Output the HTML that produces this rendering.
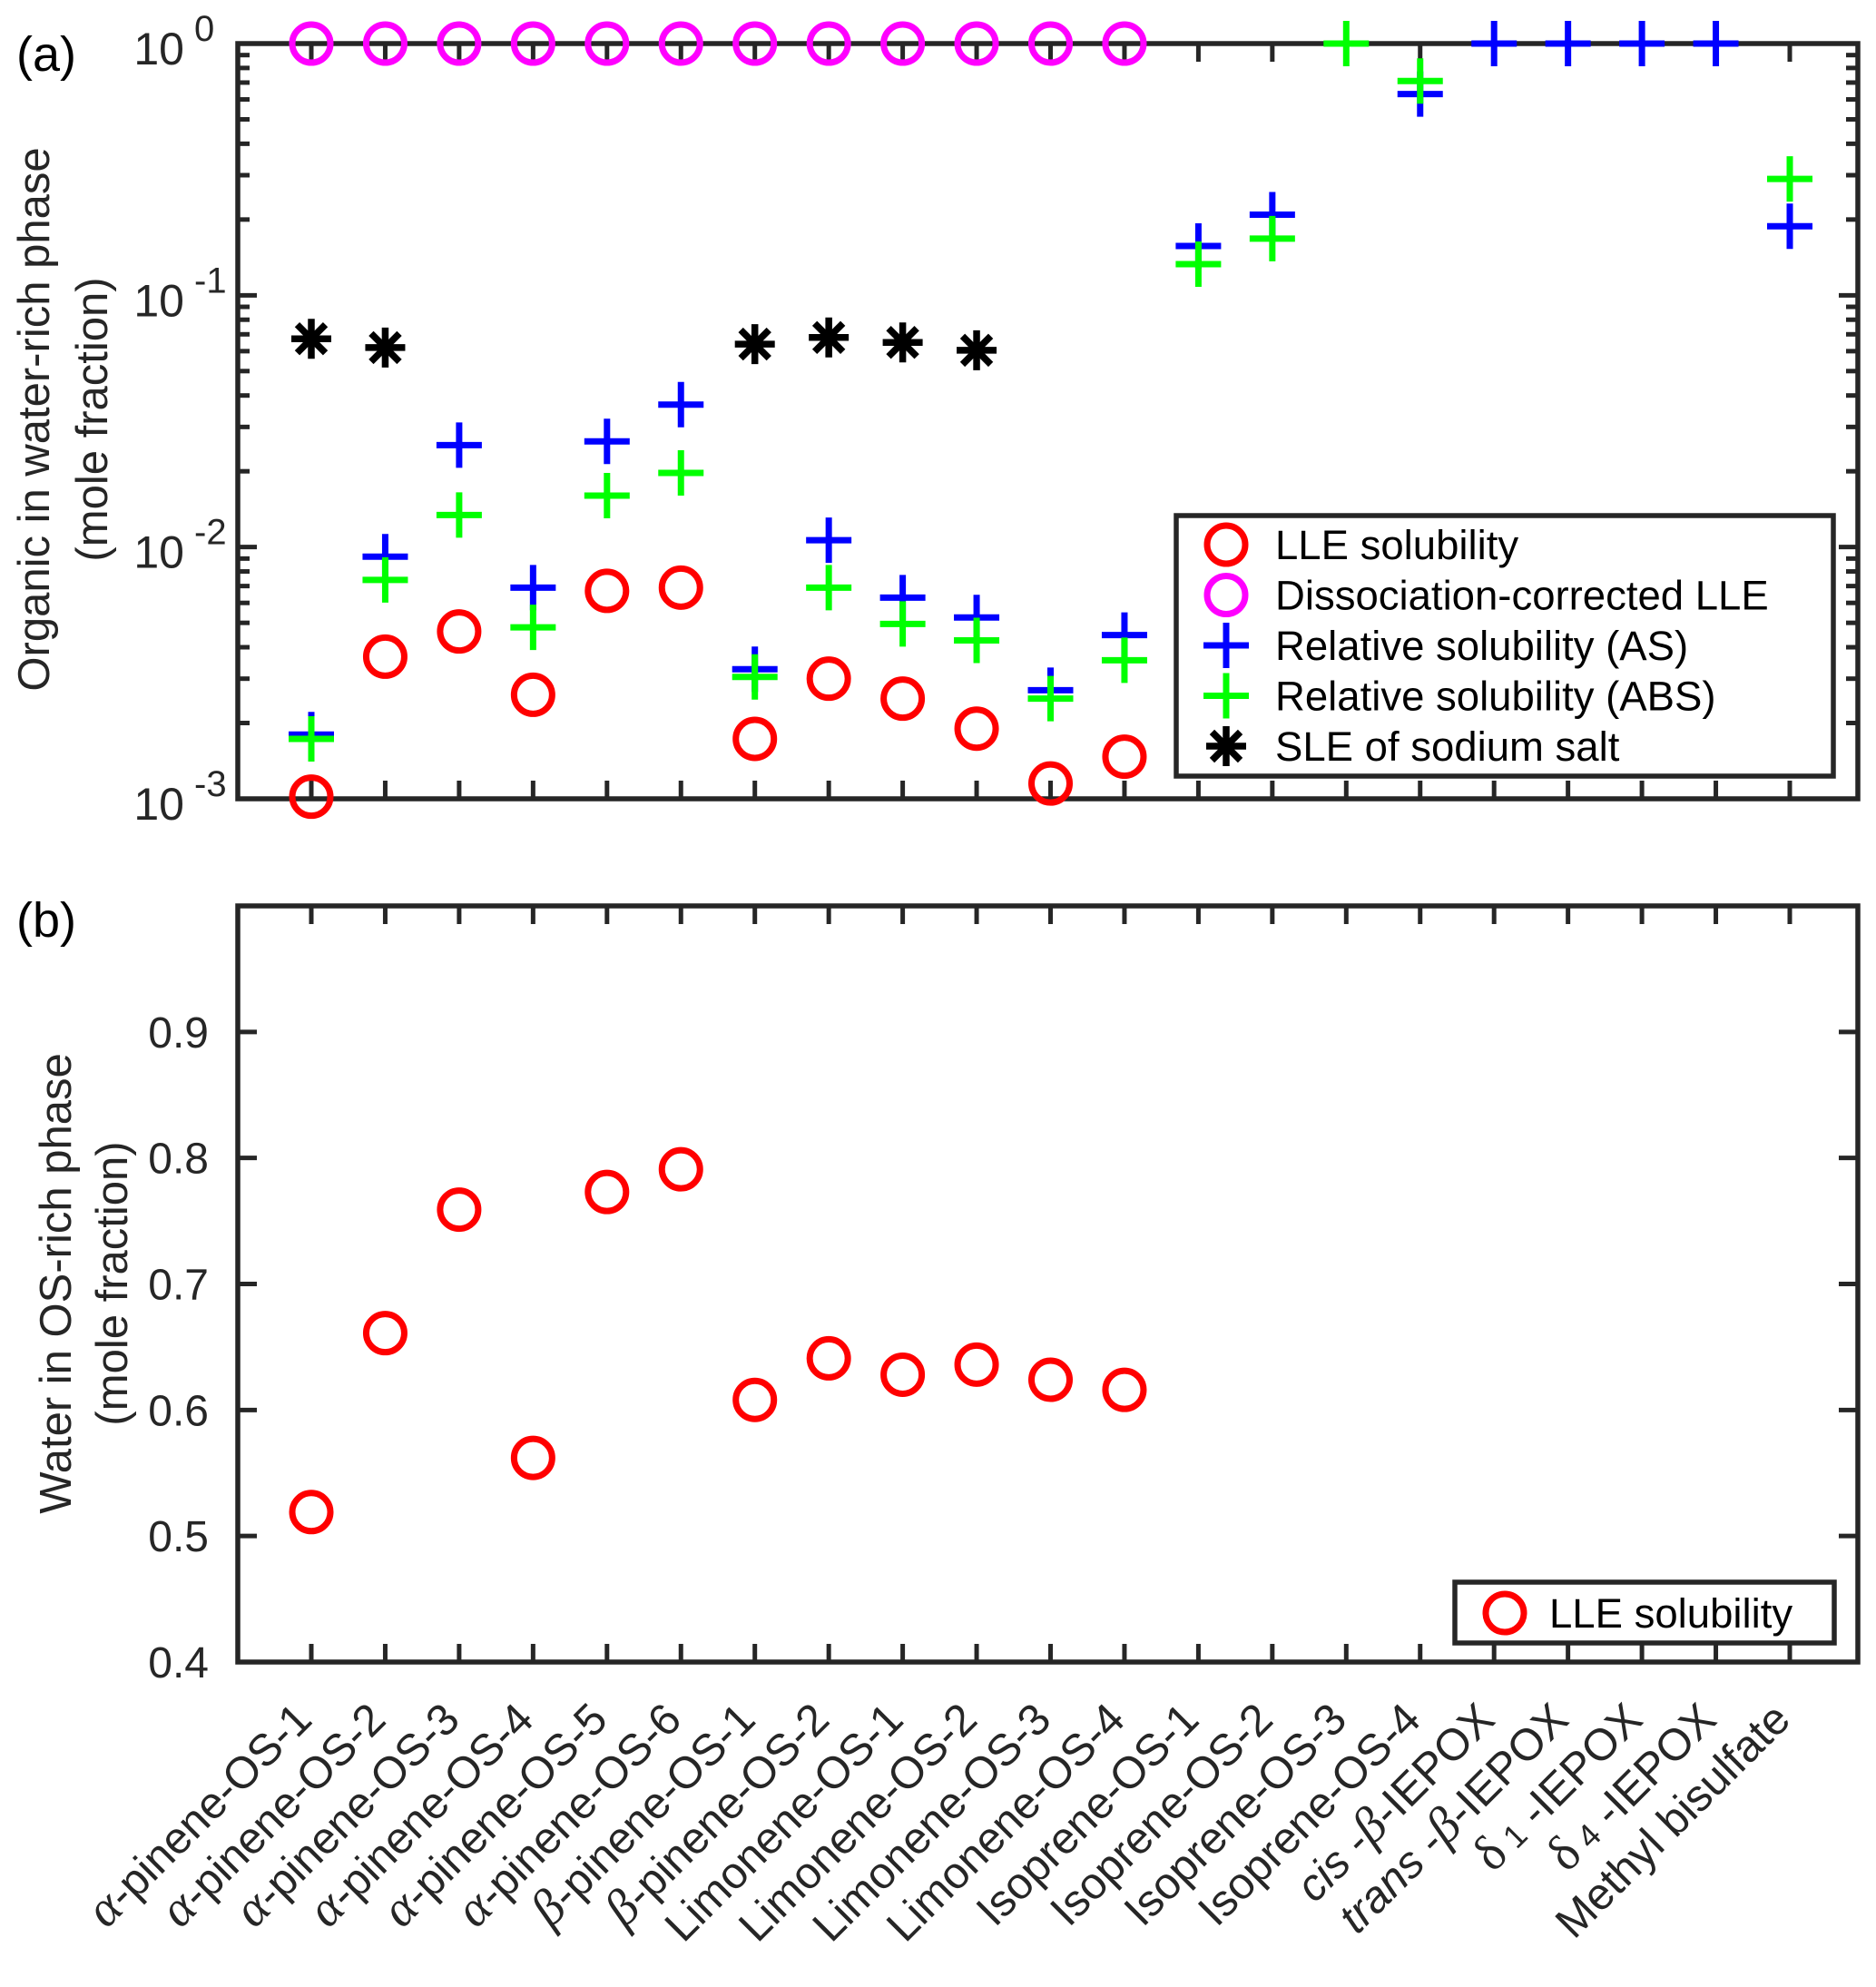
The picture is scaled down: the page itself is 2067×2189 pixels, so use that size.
<!DOCTYPE html>
<html><head><meta charset="utf-8"><style>
html,body{margin:0;padding:0;background:#fff;}
svg{display:block;font-family:"Liberation Sans",Arial,sans-serif;}
</style></head><body>
<svg id="chart" width="2067" height="2189" viewBox="0 0 2067 2189" xmlns="http://www.w3.org/2000/svg"></svg>
<script>
const categories = ["α-pinene-OS-1","α-pinene-OS-2","α-pinene-OS-3","α-pinene-OS-4","α-pinene-OS-5","α-pinene-OS-6","β-pinene-OS-1","β-pinene-OS-2","Limonene-OS-1","Limonene-OS-2","Limonene-OS-3","Limonene-OS-4","Isoprene-OS-1","Isoprene-OS-2","Isoprene-OS-3","Isoprene-OS-4","cis-β-IEPOX","trans-β-IEPOX","δ1-IEPOX","δ4-IEPOX","Methyl bisulfate"];
const lleTop = [0.00102,0.00367,0.00462,0.00259,0.0067,0.0069,0.00173,0.0030,0.0025,0.0019,0.00115,0.00147,null,null,null,null,null,null,null,null,null];
const dissocLLE = [1,1,1,1,1,1,1,1,1,1,1,1,null,null,null,null,null,null,null,null,null];
const relAS = [0.0018,0.00916,0.0254,0.0069,0.0263,0.0368,0.00327,0.01065,0.0063,0.00525,0.0027,0.00447,0.157,0.209,null,0.63,1,1,1,1,0.188];
const relABS = [0.00173,0.0074,0.0134,0.0048,0.016,0.0197,0.00305,0.0069,0.00495,0.00426,0.0025,0.00355,0.133,0.168,1,0.71,null,null,null,null,0.29];
const sleSalt = [0.0672,0.062,null,null,null,null,0.064,0.068,0.065,0.0605,null,null,null,null,null,null,null,null,null,null,null];
const waterLLE = [0.519,0.661,0.759,0.562,0.773,0.791,0.608,0.641,0.628,0.636,0.624,0.616,null,null,null,null,null,null,null,null,null];
const topTickExps = [0,-1,-2,-3];
const bottomTicks = [0.4,0.5,0.6,0.7,0.8,0.9,1.0];

const NS="http://www.w3.org/2000/svg";
const svg=document.getElementById('chart');
function el(tag,attrs,parent){const e=document.createElementNS(NS,tag);for(const k in attrs)e.setAttribute(k,attrs[k]);(parent||svg).appendChild(e);return e;}
const AX="#262626";
const L=262,R=2047;
const T1=48,B1=880, T2=998,B2=1831;
const step=(1972-343)/20;
function xc(i){return 343+i*step;}
function yLog(v){return T1+(-Math.log10(v))/3*(B1-T1);}
function yLin(v){return B2-(v-0.4)/0.6*(B2-T2);}

function frame(T,B,name){
  const g=el('g',{});
  
  
  el('rect',{x:L,y:T,width:R-L,height:B-T,fill:'none',stroke:AX,'stroke-width':5.5},g);
  categories.forEach((c,i)=>{
    el('line',{x1:xc(i),x2:xc(i),y1:B,y2:B-20,stroke:AX,'stroke-width':5},g);
    el('line',{x1:xc(i),x2:xc(i),y1:T,y2:T+20,stroke:AX,'stroke-width':5},g);
  });
  return g;
}
const g1=frame(T1,B1,'top-axes');
topTickExps.forEach(e=>{
  const y=yLog(Math.pow(10,e));
  el('line',{x1:L,x2:L+21,y1:y,y2:y,stroke:AX,'stroke-width':5},g1);
  el('line',{x1:R,x2:R-21,y1:y,y2:y,stroke:AX,'stroke-width':5},g1);
  const t=el('text',{x:203,y:y+23,'text-anchor':'end','font-size':50,fill:AX},g1);
  t.textContent='10';
  
  
  const s=el('text',{x:214,y:y-3,'font-size':40,fill:AX},g1);
  s.textContent=String(e);
  if(e<0){
    for(let m=2;m<=9;m++){
      const ym=yLog(m*Math.pow(10,e));
      el('line',{x1:L,x2:L+13,y1:ym,y2:ym,stroke:AX,'stroke-width':5},g1);
      el('line',{x1:R,x2:R-13,y1:ym,y2:ym,stroke:AX,'stroke-width':5},g1);
    }
  }
});
const g2=frame(T2,B2,'bottom-axes');
bottomTicks.forEach(v=>{
  const y=yLin(v);
  el('line',{x1:L,x2:L+21,y1:y,y2:y,stroke:AX,'stroke-width':5},g2);
  el('line',{x1:R,x2:R-21,y1:y,y2:y,stroke:AX,'stroke-width':5},g2);
  if(v<0.95){
    const t=el('text',{x:230,y:y+17,'text-anchor':'end','font-size':48,fill:AX},g2);
    t.textContent=v.toFixed(1);
    
    
  }
});

function circle(x,y,color,name,p){const c=el('circle',{cx:x,cy:y,r:21,fill:'none',stroke:color,'stroke-width':7},p);return c;}
function plus(x,y,color,name,p){const g=el('g',{},p);
  el('line',{x1:x-25,x2:x+25,y1:y,y2:y,stroke:color,'stroke-width':7},g);el('line',{x1:x,x2:x,y1:y-25,y2:y+25,stroke:color,'stroke-width':7},g);return g;}
function star(x,y,name,p){const g=el('g',{},p);
  for(let a=0;a<4;a++){const an=a*Math.PI/4;const dx=Math.cos(an)*22,dy=Math.sin(an)*22;el('line',{x1:x-dx,y1:y-dy,x2:x+dx,y2:y+dy,stroke:'#000','stroke-width':7.5},g);}return g;}

const m1=el('g',{});


categories.forEach((c,i)=>{
  if(lleTop[i]!=null) circle(xc(i),yLog(lleTop[i]),'#ff0000','lle-point',m1);
  if(dissocLLE[i]!=null) circle(xc(i),yLog(dissocLLE[i]),'#ff00ff','dissoc-lle-point',m1);
  if(relAS[i]!=null) plus(xc(i),yLog(relAS[i]),'#0000ff','rel-as-point',m1);
  if(relABS[i]!=null) plus(xc(i),yLog(relABS[i]),'#00ff00','rel-abs-point',m1);
  if(sleSalt[i]!=null) star(xc(i),yLog(sleSalt[i]),'sle-point',m1);
});
const m2=el('g',{});


categories.forEach((c,i)=>{ if(waterLLE[i]!=null) circle(xc(i),yLin(waterLLE[i]),'#ff0000','water-lle-point',m2); });

const lg=el('g',{});


el('rect',{x:1296,y:568,width:724,height:287,fill:'#fff',stroke:AX,'stroke-width':5.5},lg);
const legItems=[['LLE solubility','c','#ff0000'],['Dissociation-corrected LLE','c','#ff00ff'],['Relative solubility (AS)','p','#0000ff'],['Relative solubility (ABS)','p','#00ff00'],['SLE of sodium salt','s','#000']];
legItems.forEach((it,k)=>{
  const y=600+k*55.5;
  if(it[1]==='c') circle(1351,y,it[2],'legend-marker',lg);
  else if(it[1]==='p') plus(1351,y,it[2],'legend-marker',lg);
  else star(1351,y,'legend-marker',lg);
  const t=el('text',{x:1405,y:y+16,'font-size':45.5,fill:'#000'},lg);
  t.textContent=it[0];
  
  
});
const lg2=el('g',{});


el('rect',{x:1603,y:1743,width:418,height:67,fill:'#fff',stroke:AX,'stroke-width':5.5},lg2);
circle(1658,1777,'#ff0000','legend-marker',lg2);
const lt=el('text',{x:1707,y:1793,'font-size':45.5,fill:'#000'},lg2);
lt.textContent='LLE solubility';



function ylab(x,y,txt,name){const t=el('text',{x:x,y:y,'text-anchor':'middle','font-size':49,fill:AX,transform:`rotate(-90 ${x} ${y})`});t.textContent=txt;}
ylab(54,462,'Organic in water-rich phase','top-y-axis-title');
ylab(118,462,'(mole fraction)','top-y-axis-subtitle');
ylab(78,1414,'Water in OS-rich phase','bottom-y-axis-title');
ylab(140,1414,'(mole fraction)','bottom-y-axis-subtitle');
const pa=el('text',{x:18,y:78,'font-size':54,fill:'#000'});pa.textContent='(a)';


const pb=el('text',{x:18,y:1032,'font-size':54,fill:'#000'});pb.textContent='(b)';



const SERIF='"Liberation Serif",serif';
categories.forEach((c,i)=>{
  const x=xc(i)+3,y=1897;
  const t=el('text',{x:x,y:y,'text-anchor':'end','font-size':49,fill:AX,transform:`rotate(-45 ${x} ${y})`});
  
  
  function sp(txt,st){const s=el('tspan',st||{},t);s.textContent=txt;}
  if(c.startsWith('α')||c.startsWith('β')){sp(c[0],{'font-family':SERIF,'font-style':'italic','font-size':56});sp(c.slice(1));}
  else if(c.startsWith('cis')){sp('cis',{'font-style':'italic'});sp(' -');sp('β',{'font-family':SERIF,'font-style':'italic','font-size':56});sp('-IEPOX');}
  else if(c.startsWith('trans')){sp('trans',{'font-style':'italic'});sp(' -');sp('β',{'font-family':SERIF,'font-style':'italic','font-size':56});sp('-IEPOX');}
  else if(c.startsWith('δ')){sp('δ',{'font-family':SERIF,'font-size':56});sp(' '+c[1],{'font-size':36});sp(' -IEPOX');}
  else sp(c);
});
</script>
</body></html>
